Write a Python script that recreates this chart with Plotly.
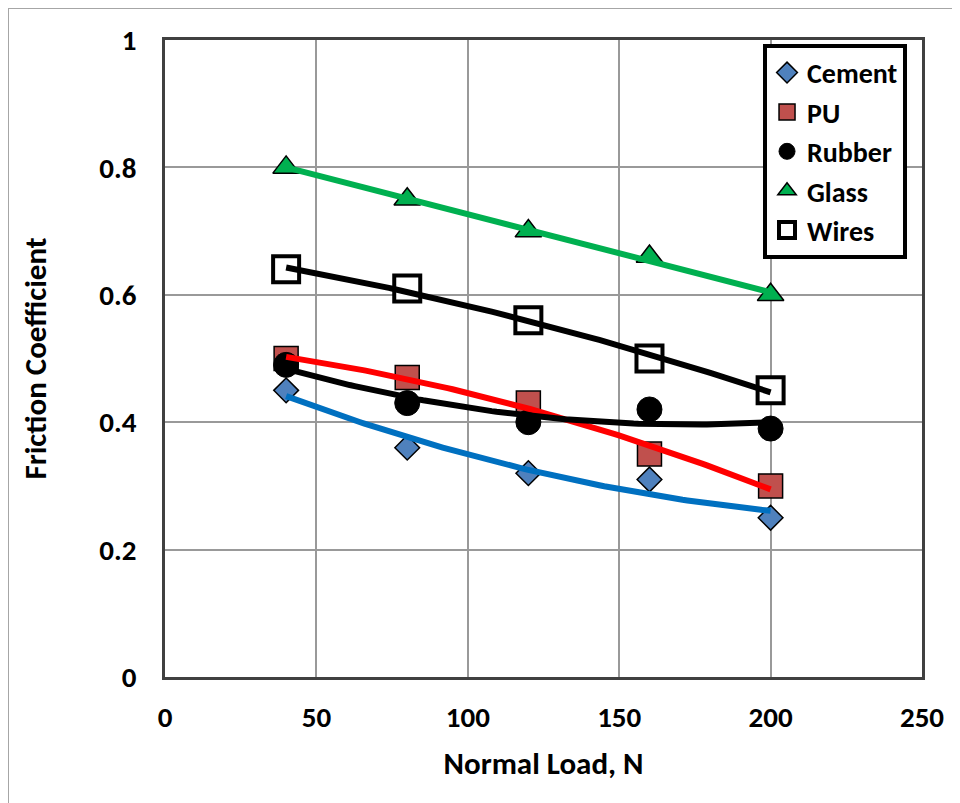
import numpy as np
import plotly.graph_objects as go

load = [40, 80, 120, 160, 200]
cement = [0.45, 0.36, 0.32, 0.31, 0.25]
pu = [0.50, 0.47, 0.43, 0.35, 0.30]
rubber = [0.49, 0.43, 0.40, 0.42, 0.39]
glass = [0.80, 0.75, 0.70, 0.66, 0.60]
wires = [0.64, 0.61, 0.56, 0.50, 0.45]

x_ticks = [0, 50, 100, 150, 200, 250]
y_ticks = [0, 0.2, 0.4, 0.6, 0.8, 1.0]
y_tick_labels = ["0", "0.2", "0.4", "0.6", "0.8", "1"]

FONT = "Carlito, Lato, Liberation Sans, sans-serif"

series = [
    ("Cement", cement, dict(symbol="diamond", size=19, color="#4F81BD", line=dict(color="black", width=1.5)), "#0070C0", 2),
    ("PU", pu, dict(symbol="square", size=24, color="#C0504D", line=dict(color="black", width=1.5)), "#FF0000", 2),
    ("Rubber", rubber, dict(symbol="circle", size=25, color="black", line=dict(color="black", width=1)), "#000000", 2),
    ("Glass", glass, dict(symbol="triangle-up", size=23, color="#00B050", line=dict(color="black", width=1.5)), "#00B050", 1),
    ("Wires", wires, dict(symbol="square", size=26, color="white", line=dict(color="black", width=4)), "#000000", 2),
]

fig = go.Figure()
for name, ys, mk, _, _ in series:
    fig.add_trace(go.Scatter(x=load, y=ys, mode="markers", name=name, marker=mk, showlegend=True))

xs = np.linspace(min(load), max(load), 100)
for name, ys, _, lc, order in series:
    coef = np.polyfit(load, ys, order)
    fig.add_trace(go.Scatter(x=xs, y=np.polyval(coef, xs), mode="lines",
                             line=dict(color=lc, width=6), showlegend=False, hoverinfo="skip"))

# the page body adds an 8px offset; margins compensate so the plot area sits at 165..922 x 40..677
fig.update_layout(
    width=960, height=803,
    margin=dict(l=157, r=46, t=32, b=134, autoexpand=False),
    paper_bgcolor="white", plot_bgcolor="white",
    font=dict(family=FONT, color="black", size=29),
    legend=dict(x=0.79, y=0.994, xanchor="left", yanchor="top",
                bordercolor="black", borderwidth=4, bgcolor="white",
                font=dict(family=FONT, size=28, color="black", weight="bold"),
                itemsizing="trace"),
    shapes=[
        dict(type="line", xref="paper", yref="paper", x0=-0.2074, x1=-0.2074, y0=-0.3, y1=1.0502,
             line=dict(color="#A6A6A6", width=2)),
        dict(type="line", xref="paper", yref="paper", x0=-0.2074, x1=1.2, y0=1.0502, y1=1.0502,
             line=dict(color="#A6A6A6", width=2)),
    ],
)
fig.update_xaxes(range=[0, 250], tickvals=x_ticks, showgrid=True, gridcolor="#999999", gridwidth=1.5,
                 showline=True, linecolor="#404040", linewidth=2.5, mirror=True, zeroline=False,
                 ticks="", ticklabelstandoff=12, automargin=False,
                 tickfont=dict(family=FONT, size=29, weight="bold"),
                 title=dict(text="Normal Load, N", font=dict(family=FONT, size=31, weight="bold"), standoff=19))
fig.update_yaxes(range=[0, 1], tickvals=y_ticks, ticktext=y_tick_labels, showgrid=True, gridcolor="#999999",
                 gridwidth=1.5, showline=True, linecolor="#404040", linewidth=2.5, mirror=True, zeroline=False,
                 ticks="", ticklabelstandoff=20, automargin=False,
                 tickfont=dict(family=FONT, size=29, weight="bold"),
                 title=dict(text="Friction Coefficient", font=dict(family=FONT, size=31, weight="bold"), standoff=44))

fig.write_html("out.html")
